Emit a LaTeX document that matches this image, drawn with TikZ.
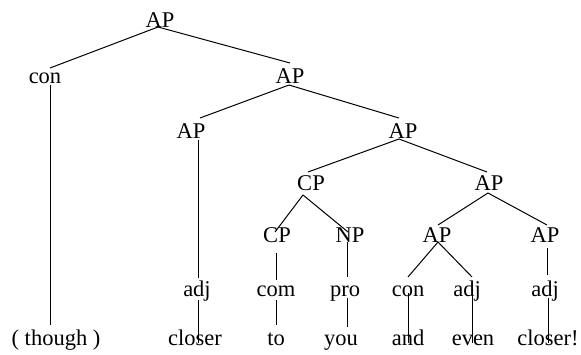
\documentclass[tikz,border=0pt]{standalone}
\usepackage{fontspec}
\setmainfont{Liberation Serif}
\begin{document}
\begin{tikzpicture}[x=1pt,y=-1pt,
  lab/.style={anchor=base,inner sep=0pt,font=\fontsize{22.5}{26}\selectfont},
  edge/.style={line width=1pt}]
\useasboundingbox (0,0) rectangle (581,354);
% row 0
\node[lab] (r0) at (160,27) {AP};
% row 1
\node[lab] (c1) at (45,83) {con};
\node[lab] (a1) at (290,83) {AP};
% row 2
\node[lab] (a2L) at (191,138) {AP};
\node[lab] (a2R) at (403,138) {AP};
% row 3
\node[lab] (cp3) at (311,190) {CP};
\node[lab] (ap3) at (489,190) {AP};
% row 4
\node[lab] (cp4) at (277,242) {CP};
\node[lab] (np4) at (350,242) {NP};
\node[lab] (ap4L) at (437,242) {AP};
\node[lab] (ap4R) at (545,242) {AP};
% row 5
\node[lab] (adja) at (197,296) {adj};
\node[lab] (com) at (276,296) {com};
\node[lab] (pro) at (345,296) {pro};
\node[lab] (con5) at (408,296) {con};
\node[lab] (adjb) at (467,296) {adj};
\node[lab] (adjc) at (545,296) {adj};
% row 6
\node[lab] (though) at (56,345) {( though )};
\node[lab] (closer) at (195,345) {closer};
\node[lab] (to) at (276,345) {to};
\node[lab] (you) at (341,345) {you};
\node[lab] (and) at (408,345) {and};
\node[lab] (even) at (473,345) {even};
\node[lab] (closerx) at (548,345) {closer!};
% connectors
\draw[edge] ([xshift=-2pt]r0.base) -- ([xshift=5pt,yshift=15pt]c1.base);
\draw[edge] ([xshift=-2pt]r0.base) -- ([yshift=20pt]a1.base);
\draw[edge] ([xshift=5pt,yshift=-2pt]c1.base) -- ([xshift=-6pt,yshift=20pt]though.base);
\draw[edge] ([xshift=-1pt,yshift=-2pt]a1.base) -- ([xshift=9pt,yshift=20pt]a2L.base);
\draw[edge] ([xshift=-1pt,yshift=-2pt]a1.base) -- ([xshift=-4pt,yshift=20pt]a2R.base);
\draw[edge] ([xshift=7pt,yshift=-2pt]a2L.base) -- ([xshift=1pt,yshift=18pt]adja.base);
\draw[edge] ([xshift=1pt,yshift=-4pt]adja.base) -- ([xshift=3pt,yshift=2pt]closer.base);
\draw[edge] ([xshift=-4pt,yshift=-1pt]a2R.base) -- ([xshift=-3pt,yshift=18pt]cp3.base);
\draw[edge] ([xshift=-4pt,yshift=-1pt]a2R.base) -- ([xshift=-2pt,yshift=18pt]ap3.base);
\draw[edge] ([xshift=-8pt,yshift=-5pt]cp3.base) -- ([xshift=-2pt,yshift=10pt]cp4.base);
\draw[edge] ([xshift=-8pt,yshift=-5pt]cp3.base) -- ([xshift=-2pt,yshift=10pt]np4.base);
\draw[edge] ([xshift=-1pt,yshift=-3pt]ap3.base) -- ([xshift=1pt,yshift=17pt]ap4L.base);
\draw[edge] ([xshift=-1pt,yshift=-3pt]ap3.base) -- ([xshift=2pt,yshift=17pt]ap4R.base);
\draw[edge] ([xshift=-1pt,yshift=-11pt]cp4.base) -- ([yshift=16pt]com.base);
\draw[edge] ([yshift=-4pt]com.base) -- ([yshift=20pt]to.base);
\draw[edge] ([xshift=-3pt]np4.base) -- ([xshift=2pt,yshift=19pt]pro.base);
\draw[edge] ([xshift=2pt,yshift=-2pt]pro.base) -- ([xshift=6pt,yshift=18pt]you.base);
\draw[edge] ([xshift=1pt]ap4L.base) -- ([yshift=19pt]con5.base);
\draw[edge] ([xshift=1pt]ap4L.base) -- ([xshift=5pt,yshift=19pt]adjb.base);
\draw[edge] ([yshift=3pt]con5.base) -- ([yshift=2pt]and.base);
\draw[edge] ([xshift=5pt,yshift=11pt]adjb.base) -- ([xshift=-1pt,yshift=2pt]even.base);
\draw[edge] ([xshift=2pt,yshift=-6pt]ap4R.base) -- ([xshift=2pt,yshift=21pt]adjc.base);
\draw[edge] ([xshift=3pt,yshift=-2pt]adjc.base) -- ([yshift=2pt]closerx.base);
\end{tikzpicture}
\end{document}
